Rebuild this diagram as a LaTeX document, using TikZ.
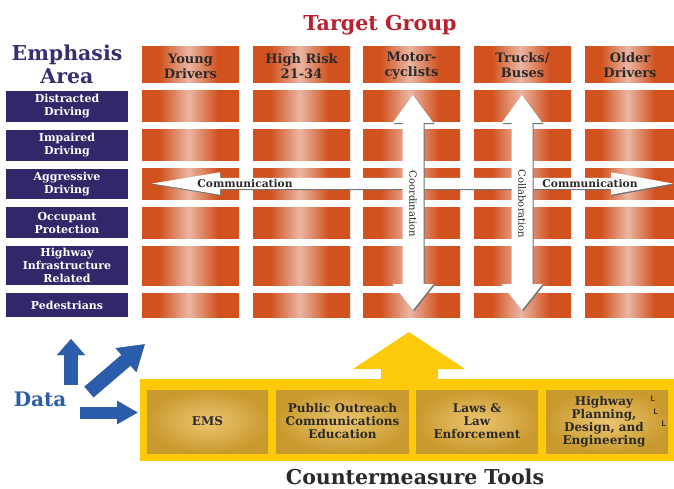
\documentclass[tikz,border=0pt]{standalone}
\usepackage{fontspec}
\setmainfont{DejaVu Serif}
\usetikzlibrary{arrows.meta}
\definecolor{orng}{HTML}{D2521F}
\definecolor{orngl}{HTML}{EAB6A3}
\definecolor{purp}{HTML}{33276A}
\definecolor{emph}{HTML}{3A2E6E}
\definecolor{tred}{HTML}{B8212E}
\definecolor{blu}{HTML}{2B5DAA}
\definecolor{yel}{HTML}{FDCA0A}
\definecolor{goldd}{HTML}{C99A2E}
\definecolor{goldl}{HTML}{ECC572}
\definecolor{dtext}{HTML}{2A2A2A}
\pgfdeclarehorizontalshading{barshade}{100bp}{color(0bp)=(orng); color(34bp)=(orng); color(49bp)=(orngl); color(64bp)=(orng); color(100bp)=(orng)}
\tikzset{
  hdr/.style={align=center, inner sep=0pt, text=dtext, font=\fontsize{13}{15}\selectfont\bfseries},
  emtext/.style={align=center, inner sep=0pt, text=white, font=\fontsize{11}{13}\selectfont\bfseries},
  tooltext/.style={align=center, inner sep=0pt, text=dtext, font=\fontsize{12}{13}\selectfont\bfseries},
  arrtext/.style={inner sep=0pt, text=dtext, font=\fontsize{10.7}{12}\selectfont\bfseries},
  vtext/.style={inner sep=0pt, text=dtext, font=\fontsize{10}{12}\selectfont, rotate=-90},
  lmark/.style={inner sep=0pt, text=black, font=\fontsize{8}{8}\selectfont\sffamily},
  bluearrow/.style={blu, line width=#1},
  shadowarrow/.style={black!45, line width=#1}
}
\newcommand\harrowshape[1]{\fill[#1] (152,183.5) -- (220,172.3) -- (220,178) -- (611,178) -- (611,172.3) -- (673,183.5) -- (611,194.7) -- (611,189) -- (220,189) -- (220,194.7) -- cycle;}
\newcommand\varrowshape[2]{\fill[#2] (#1,95) -- (#1+20.5,123) -- (#1+10.5,123) -- (#1+10.5,284) -- (#1+20.5,284) -- (#1,310) -- (#1-20.5,284) -- (#1-10.5,284) -- (#1-10.5,123) -- (#1-20.5,123) -- cycle;}
\begin{document}
\begin{tikzpicture}[x=1pt,y=-1pt]
\useasboundingbox[fill=white] (0,0) rectangle (674,489);
% grid of cells
\foreach \cx/\cw in {142/97,253/97,363/97,474/97,585/89}{
  \foreach \ry/\rh in {47/36,91/31,130/31,169/30,207/31,246/39,293/24}{
    \path[shading=barshade] (\cx,\ry) rectangle ++(\cw,\rh);
  }}
% emphasis boxes
\foreach \ry/\rh in {91/31,130/31,169/30,207/31,246/39,293/24}{
  \fill[purp] (6,\ry) rectangle ++(122,\rh);
}
% titles
\node[inner sep=0pt, text=tred, font=\fontsize{20.6}{22}\selectfont\bfseries] (tg) at (380,25) {Target Group};
\node[align=center, inner sep=0pt, text=emph, font=\fontsize{20.5}{23}\selectfont\bfseries] (ea) at (67,64) {Emphasis\\Area};
% headers
\node[hdr] (h1) at (190.5,66) {Young\\Drivers};
\node[hdr] (h2) at (301.5,66) {High Risk\\21-34};
\node[hdr] (h3) at (411.5,66) {Motor-\\cyclists};
\node[hdr] (h4) at (522.5,65) {Trucks/\\Buses};
\node[hdr] (h5) at (630,65) {Older\\Drivers};
% emphasis labels
\node[emtext] (e1) at (67,106.5) {Distracted\\Driving};
\node[emtext] (e2) at (67,145.5) {Impaired\\Driving};
\node[emtext] (e3) at (67,184) {Aggressive\\Driving};
\node[emtext] (e4) at (67,222.5) {Occupant\\Protection};
\node[emtext] (e5) at (67,265.5) {Highway\\Infrastructure\\Related};
\node[emtext] (e6) at (67,305) {Pedestrians};
% white arrows
\begin{scope}[shift={(1.2,1.2)}]\harrowshape{black!55}\end{scope}
\harrowshape{white}
\node[arrtext] (com1) at (245,183.5) {Communication};
\node[arrtext] (com2) at (590,183.5) {Communication};
\begin{scope}[shift={(1.2,1.2)}]\varrowshape{413}{black!55}\varrowshape{522}{black!55}\end{scope}
\varrowshape{413}{white}
\varrowshape{522}{white}
\node[vtext] (coord) at (413,204) {Coordination};
\node[vtext] (coll) at (522,204) {Collaboration};
% yellow tools box and arrow
\fill[yel] (140,379) rectangle (674,461);
\fill[yel] (381,379) -- (381,369) -- (353,369) -- (409,332) -- (465,369) -- (438,369) -- (438,379) -- cycle;
\foreach \x/\xe in {147/268,276/409,416/538,546/668}{
  \path[inner color=goldl, outer color=goldd] (\x,390) rectangle (\xe,453);
}
\node[tooltext] (t1) at (207.5,421.5) {EMS};
\node[tooltext] (t2) at (342.5,421.5) {Public Outreach\\Communications\\Education};
\node[tooltext] (t3) at (477,421.5) {Laws \&\\Law\\Enforcement};
\node[tooltext] (t4) at (604,421.5) {Highway\\Planning,\\Design, and\\Engineering};
\node[lmark] (l1) at (653,399) {L};
\node[lmark] (l2) at (656,412) {L};
\node[lmark] (l3) at (664,424) {L};
\node[inner sep=0pt, anchor=base, text=dtext, font=\fontsize{20.5}{22}\selectfont\bfseries] (ct) at (415,484) {Countermeasure Tools};
% data
\node[inner sep=0pt, text=blu, font=\fontsize{20}{22}\selectfont\bfseries] (data) at (40,399) {Data};
\coordinate (u0) at (71,385); \coordinate (u1) at (71,339);
\coordinate (d0) at (89,392); \coordinate (d1) at (145,344);
\coordinate (r0) at (80,412.5); \coordinate (r1) at (138,412.5);
\begin{scope}[shift={(1.5,1.5)}]
\draw[shadowarrow=14pt, -{Triangle[length=16pt,width=27pt]}] (u0) -- (u1);
\draw[shadowarrow=14pt, -{Triangle[length=25pt,width=30pt]}] (d0) -- (d1);
\draw[shadowarrow=12pt, -{Triangle[length=21pt,width=22pt]}] (r0) -- (r1);
\end{scope}
\draw[bluearrow=14pt, -{Triangle[length=16pt,width=27pt]}] (u0) -- (u1);
\draw[bluearrow=14pt, -{Triangle[length=25pt,width=30pt]}] (d0) -- (d1);
\draw[bluearrow=12pt, -{Triangle[length=21pt,width=22pt]}] (r0) -- (r1);
\end{tikzpicture}
\end{document}
